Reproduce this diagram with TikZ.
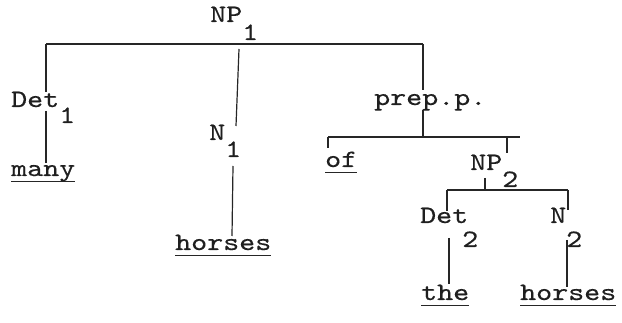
\documentclass[tikz,border=0pt]{standalone}
\usepackage{fontspec}
% widened slab-serif typewriter face
\newfontfamily\typewriter{lmmono10-regular}[Extension=.otf,FakeStretch=1.22,FakeBold=0.35]
\usetikzlibrary{calc}
% index set lower than the category label, typewriter fashion
\newcommand{\lowsub}[3]{\kern#2\lower#1\hbox{#3}}
\begin{document}
\begin{tikzpicture}[x=1pt,y=-1pt,
  lbl/.style={anchor=base west,inner sep=0pt,font=\fontsize{25}{28}\typewriter,text=black!88},
  bar/.style={line width=1.7pt,draw=black!85},
  stem/.style={line width=1.2pt,draw=black!85},
  stemthick/.style={line width=2pt,draw=black!85},
  uline/.style={line width=1.8pt,draw=black!85}]
\useasboundingbox (0,0) rectangle (622,323);

% category and word labels
\node[lbl] (np1)     at (210,22)  {NP\lowsub{18pt}{0pt}{1}};
\node[lbl] (det1)    at (11,107)  {Det\lowsub{16pt}{0pt}{1}};
\node[lbl] (n1)      at (209,140) {N\lowsub{17pt}{0pt}{1}};
\node[lbl] (prep)    at (374,105) {prep.p.};
\node[lbl] (many)    at (11,176)  {many};
\node[lbl] (horsesa) at (175,250) {horses};
\node[lbl] (of)      at (325,167) {of};
\node[lbl] (np2)     at (470,170) {NP\lowsub{17pt}{0pt}{2}};
\node[lbl] (det2)    at (420,223) {Det\lowsub{24pt}{-6pt}{2}};
\node[lbl] (n2)      at (550,223) {N\lowsub{24pt}{0pt}{2}};
\node[lbl] (the)     at (421,300) {the};
\node[lbl] (horsesb) at (520,300) {horses};

% branching bars
\coordinate (b1l) at (46,44);
\coordinate (b1r) at (423,44);
\coordinate (b2l) at (328,137);
\coordinate (b2r) at (520,137);
\coordinate (b3l) at (447,190);
\coordinate (b3r) at (568,190);
\draw[bar] (b1l) -- (b1r);
\draw[bar] (b2l) -- (b2r);
\draw[bar] (b3l) -- (b3r);

% NP1 branches
\draw[stem] (b1l) -- (det1.north -| b1l);
\draw[stem] ([yshift=-4pt]det1.base -| b1l) -- ([yshift=2pt]many.north -| b1l);
\coordinate (n1up) at (239,49);
\coordinate (n1dn) at (236,126);
\draw[stem] (n1up) -- (n1dn);
\coordinate (n1lo) at (233,166);
\coordinate (ha) at (232,236);
\draw[stem] (n1lo) -- (ha);
\draw[stem] (b1r) -- ([yshift=4pt]prep.north -| b1r);
\draw[stem] ([yshift=-5pt]prep.base -| b1r) -- (b1r |- b2l);

% prep.p. branches
\draw[stem] (b2l) -- ([yshift=3pt]of.north -| b2l);
\coordinate (np2t) at (507,137);
\draw[stem] (np2t) -- ([yshift=2pt]np2.north -| np2t);
\coordinate (np2s) at (485,178);
\draw[stem] (np2s) -- (np2s |- b3l);

% NP2 branches
\draw[stem] (b3l) -- ([yshift=-3pt]det2.north -| b3l);
\draw[stem] (b3r) -- ([yshift=-2pt]n2.north -| b3r);
\coordinate (d2lo) at (449,238);
\draw[stemthick] (d2lo) -- ([yshift=1pt]the.north -| d2lo);
\coordinate (n2lo) at (567,240);
\draw[stemthick] (n2lo) -- ([yshift=-2pt]horsesb.north -| n2lo);

% underlined words
\foreach \w in {many,horsesa,of,the,horsesb}
  \draw[uline] ([yshift=-5.5pt]\w.base west) -- ([yshift=-5.5pt]\w.base east);
\end{tikzpicture}
\end{document}
